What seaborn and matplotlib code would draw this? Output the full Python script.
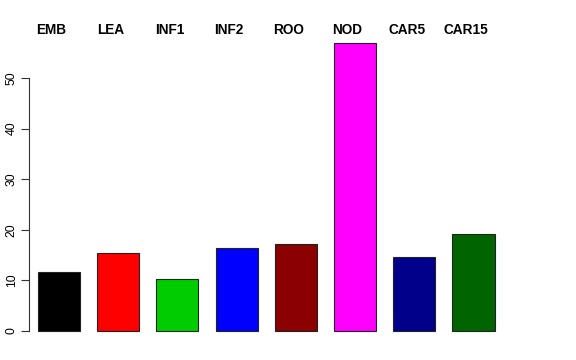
import numpy as np
import pandas as pd
import matplotlib
matplotlib.use("Agg")
import matplotlib.pyplot as plt
import seaborn as sns

# ---------- data ----------
tissues = ["EMB", "LEA", "INF1", "INF2", "ROO", "NOD", "CAR5", "CAR15"]
values = [11.6, 15.4, 10.3, 16.4, 17.2, 56.9, 14.6, 19.2]
bar_colors = ["#000000", "#FF0000", "#00CD00", "#0000FF",
              "#8B0000", "#FF00FF", "#00008B", "#006400"]
yticks = [0, 10, 20, 30, 40, 50]
# --------------------------

sns.set_style("ticks")
plt.rcParams["font.family"] = ["Liberation Sans", "DejaVu Sans"]
plt.rcParams.update({"text.color": "black", "ytick.color": "#333333",
                     "ytick.labelcolor": "black"})

df = pd.DataFrame({"tissue": tissues, "value": values})

fig = plt.figure(figsize=(5.76, 3.6), dpi=100)
ax = fig.add_axes([0.0503, 0.0472, 0.87, 0.8668])

sns.barplot(data=df, x="tissue", y="value", hue="tissue", palette=bar_colors,
            saturation=1, width=0.71, edgecolor="#222222", linewidth=0.8,
            legend=False, ax=ax)

ax.set_xlim(-0.507, 7.956)
ax.set_ylim(-2.37, 59.3)

# R-style axis: only left, limited to tick range
for s in ["top", "right", "bottom"]:
    ax.spines[s].set_visible(False)
ax.spines["left"].set_bounds(0, 50)
ax.spines["left"].set_color("#333333")
ax.spines["left"].set_linewidth(0.8)
ax.set_yticks(yticks)
ax.set_yticklabels([str(t) for t in yticks], rotation=90, va="center", fontsize=8.8)
ax.tick_params(axis="y", length=6, width=0.8, color="#333333", pad=2)
ax.set_xticks([])
ax.set_xlabel("")
ax.set_ylabel("")

# labels across the top, slightly left of each bar
label_x = np.arange(len(tissues)) - 0.13
for xp, name in zip(label_x, tissues):
    ax.text(xp, 59.5, name, ha="center", va="center", fontsize=9.8,
            fontweight="bold", clip_on=False)

fig.savefig("out.png", dpi=100)
plt.close(fig)
